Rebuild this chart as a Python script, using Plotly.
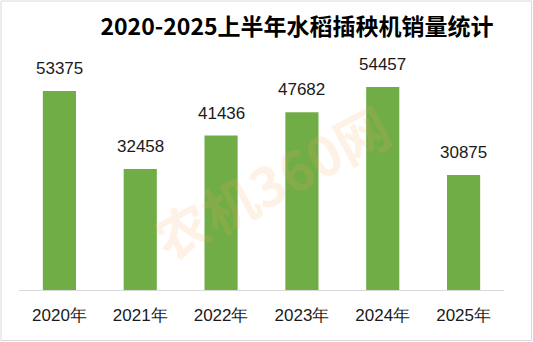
import plotly.graph_objects as go

years = ["2020年", "2021年", "2022年", "2023年", "2024年", "2025年"]
sales = [53375, 32458, 41436, 47682, 54457, 30875]
title_text = "2020-2025上半年水稻插秧机销量统计"

W, H = 533, 342
ml, mr, mt, mb = 19, 29, 29, 52

fig = go.Figure()
fig.add_trace(go.Bar(
    x=years, y=sales, marker_color="#70AD47", marker_line_width=0,
    hoverinfo="skip",
))

for yr, v in zip(years, sales):
    fig.add_annotation(
        x=yr, y=v, text=str(v), showarrow=False, yanchor="bottom", yshift=11,
        font=dict(family="Liberation Sans, Arial", size=17, color="#1a1a1a"),
    )

# watermark
fig.add_annotation(
    xref="paper", yref="paper", x=0.52, y=0.42, text="<b>农机360网</b>", showarrow=False,
    textangle=-28, font=dict(family="Noto Sans CJK SC", size=54, color="rgba(248,165,95,0.16)"),
)

pw = W - ml - mr
ph = H - mt - mb


def px_to_paper_x(px):
    return (px - ml) / pw


def px_to_paper_y(py):
    return (H - mb - py) / ph


fig.add_shape(
    type="rect", xref="paper", yref="paper",
    x0=px_to_paper_x(1), x1=px_to_paper_x(W - 1.5),
    y0=px_to_paper_y(H - 1.5), y1=px_to_paper_y(1),
    line=dict(color="#D9D9D9", width=1), fillcolor="rgba(0,0,0,0)", layer="above",
)

fig.update_layout(
    width=W, height=H,
    margin=dict(l=ml, r=mr, t=mt, b=mb),
    paper_bgcolor="white", plot_bgcolor="white",
    bargap=0.59, showlegend=False,
    title=dict(text="<b>" + title_text + "</b>", x=297 / W, xanchor="center",
               y=1 - 27 / H, yanchor="middle",
               font=dict(family="Noto Sans CJK SC", size=23, color="black")),
    xaxis=dict(showline=True, linecolor="#D9D9D9", linewidth=1, ticks="",
               ticklabelstandoff=10,
               tickfont=dict(family="Liberation Sans, Arial", size=17, color="#1a1a1a"),
               fixedrange=True),
    yaxis=dict(range=[0, 70000], visible=False, showgrid=False, fixedrange=True),
)

fig.write_html("out.html")
